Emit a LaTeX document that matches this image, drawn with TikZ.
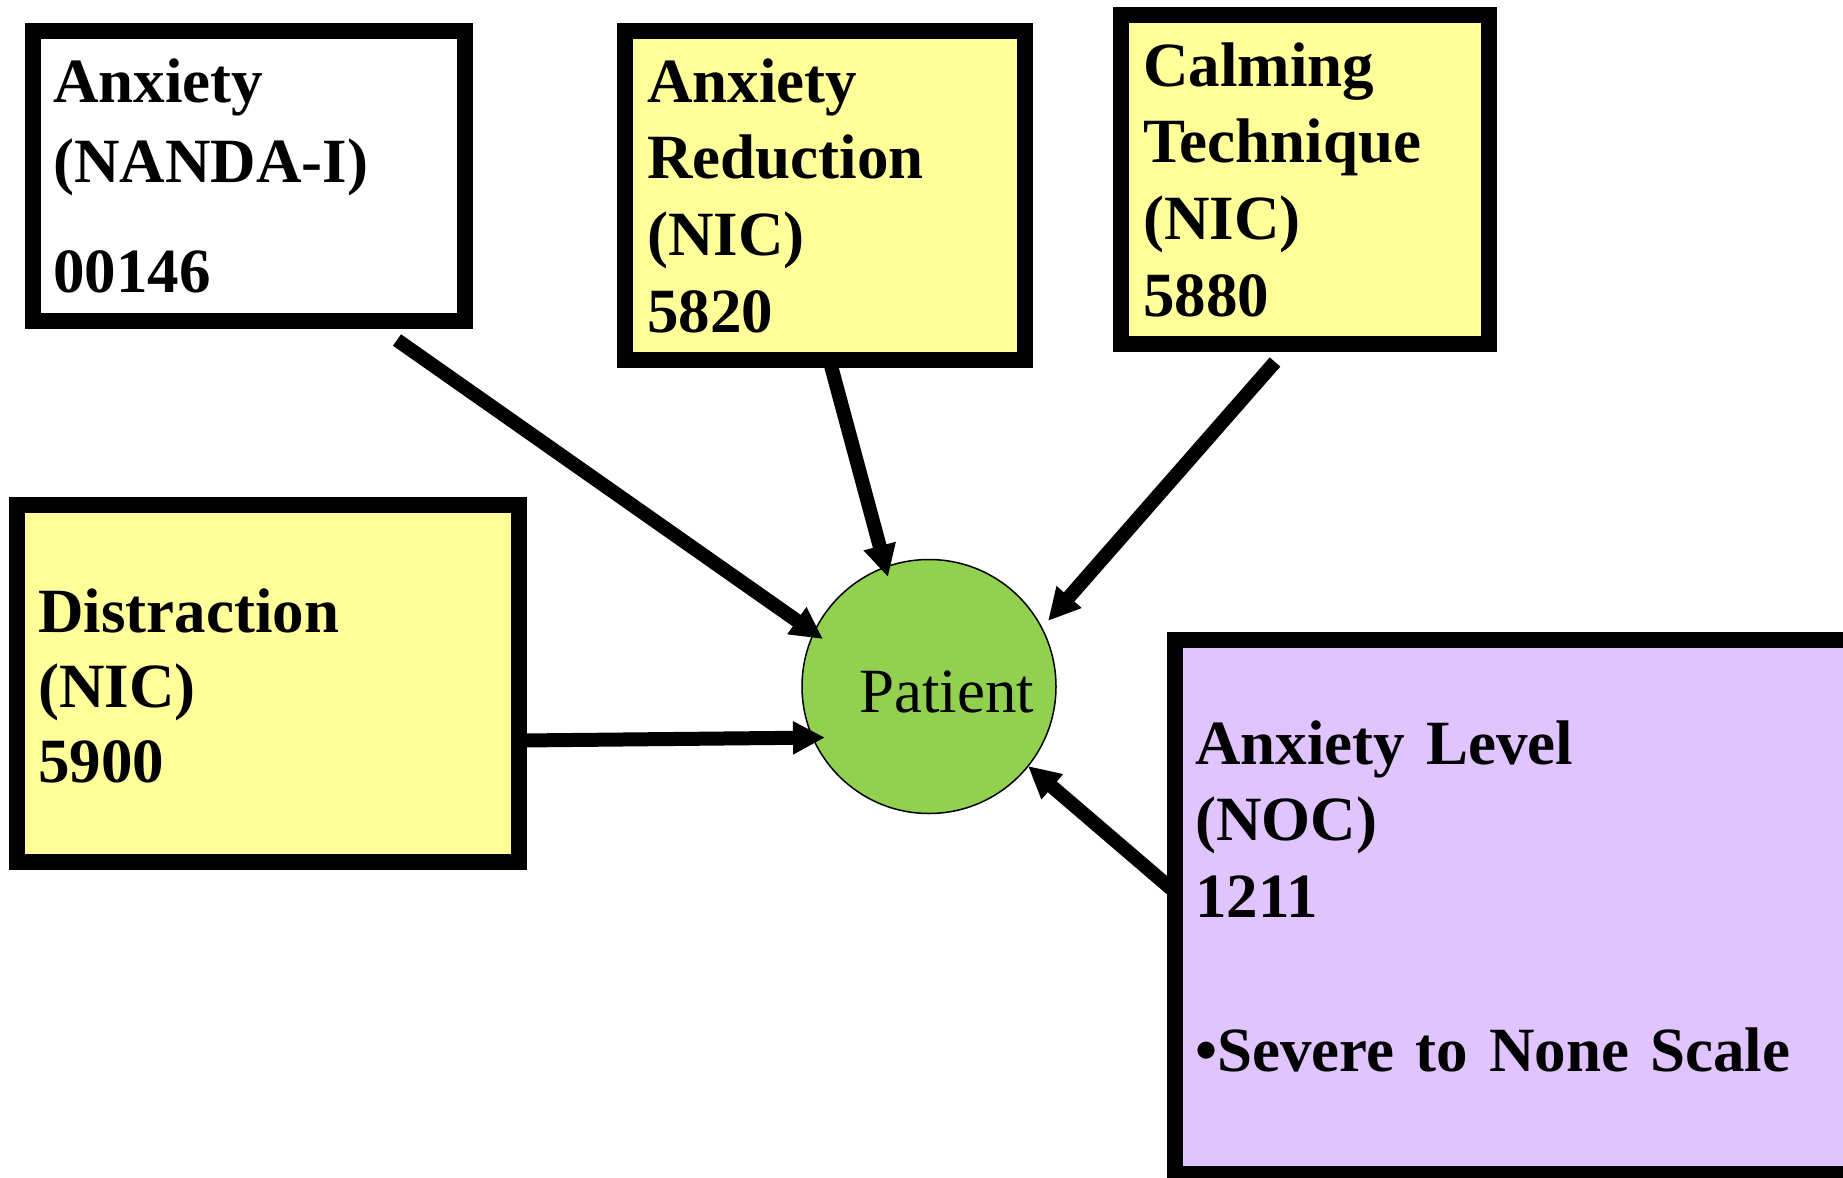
\documentclass[tikz,border=0pt]{standalone}
\usepackage{fontspec}
\setmainfont{Liberation Serif}[WordSpace=0.85]
\usetikzlibrary{arrows.meta,calc}

\definecolor{noteyellow}{RGB}{255,255,153}
\definecolor{notelilac}{RGB}{224,196,255}
\definecolor{patientgreen}{RGB}{146,208,80}

\begin{document}
\begin{tikzpicture}[x=0.5pt,y=-0.5pt,
  card/.style={draw=black, line width=8pt, rectangle, inner sep=0pt, outer sep=0pt, anchor=north west},
  cardtext/.style={anchor=base west, inner sep=0pt, text width=400pt, align=left,
    font=\fontsize{31.5pt}{38.35pt}\selectfont\bfseries},
  link/.style={line width=7pt, -{Triangle[width=15.5pt,length=16pt]}},
]
\useasboundingbox (0,0) rectangle (1843,1178);
\clip (0,0) rectangle (1843,1178);
\fill[white] (0,0) rectangle (1843,1178);

% outer boxes
\node[card, fill=white,       minimum width=216pt, minimum height=145pt]   (nanda) at (33,31) {};
\node[card, fill=noteyellow,  minimum width=200pt, minimum height=164.5pt] (reduce) at (625,31) {};
\node[card, fill=noteyellow,  minimum width=184pt, minimum height=164.5pt] (calm) at (1121,15) {};
\node[card, fill=noteyellow,  minimum width=251pt, minimum height=178.5pt] (distract) at (17,505) {};
\node[card, fill=notelilac,   minimum width=338pt, minimum height=267pt]   (level) at (1175,640) {};

% box texts
\node[cardtext, font=\fontsize{31.5pt}{40pt}\selectfont\bfseries] (nanda-txt) at (53,102)
  {Anxiety\\(NANDA-I)\\[15.5pt]00146};
\node[cardtext] (reduce-txt) at (647,102) {Anxiety\\Reduction\\(NIC)\\5820};
\node[cardtext] (calm-txt) at (1143,86) {Calming\\Technique\\(NIC)\\5880};
\node[cardtext, font=\fontsize{31.5pt}{37.5pt}\selectfont\bfseries] (distract-txt) at (38,632)
  {Distraction\\(NIC)\\5900};
\node[cardtext] (level-txt) at (1195,764)
  {Anxiety Level\\(NOC)\\1211\\[38.5pt]•Severe to None Scale};

% central patient node
\node[circle, draw=black, line width=0.75pt, fill=patientgreen, minimum size=127pt, inner sep=0pt]
  (pat) at (929,686.5) {};
\node[anchor=base west, inner sep=0pt, font=\fontsize{31.5pt}{38pt}\selectfont] (pat-txt) at (859,712) {Patient};

% connector ends
\coordinate (nanda-out) at (397,340);
\coordinate (reduce-out) at (830,362);
\coordinate (calm-out) at (1275,362);
\coordinate (distract-out) at (521,740.5);
\coordinate (level-out) at (1175,892);
\coordinate (pat-in1) at ($(pat.center)+(-106,-47.5)$);
\coordinate (pat-in2) at ($(pat.center)+(-41,-109.5)$);
\coordinate (pat-in3) at ($(pat.center)+(119,-65.5)$);
\coordinate (pat-in4) at ($(pat.center)+(-104,51)$);
\coordinate (pat-in5) at ($(pat.center)+(99,79.5)$);

% connectors
\draw[link] (nanda-out) -- (pat-in1);
\draw[link] (reduce-out) -- (pat-in2);
\draw[link] (calm-out) -- (pat-in3);
\draw[link] (distract-out) -- (pat-in4);
\draw[link] (level-out) -- (pat-in5);
\end{tikzpicture}
\end{document}
